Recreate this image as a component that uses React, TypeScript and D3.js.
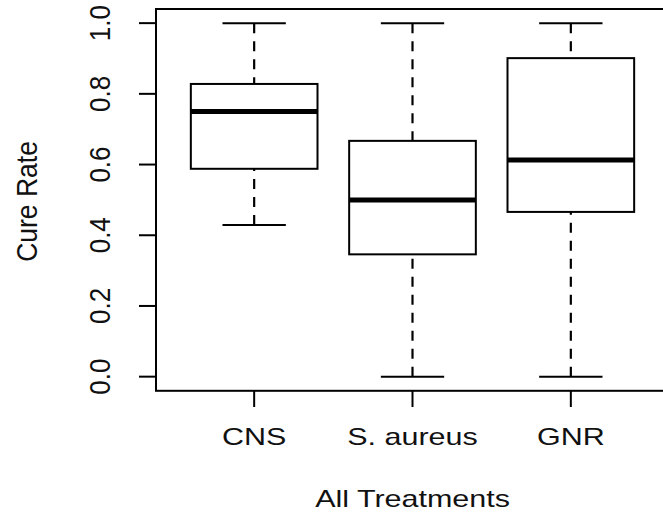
import React from "react";
import * as d3 from "d3";

// Five-number summaries of cure rate per pathogen group
const categories = ["CNS", "S. aureus", "GNR"];
const whiskerLow = [0.429, 0.0, 0.0];
const quartile1 = [0.588, 0.346, 0.466];
const medians = [0.75, 0.5, 0.613];
const quartile3 = [0.828, 0.667, 0.901];
const whiskerHigh = [1.0, 1.0, 1.0];
const yTicks = [0.0, 0.2, 0.4, 0.6, 0.8, 1.0];

const W = 663;
const H = 516;
const FONT = "'Liberation Sans', Arial, Helvetica, sans-serif";
const SX = 1.27; // horizontal stretch of the text glyphs

export default function App() {
  const x = d3.scaleLinear().domain([0.38, 3.62]).range([156, 669]);
  const y = d3.scaleLinear().domain([-0.04, 1.04]).range([390.8, 9]);
  const boxHalf = x(1.4) - x(1);
  const capHalf = x(1.2) - x(1);

  const rows = categories.map((c, i) => ({
    name: c,
    cx: x(i + 1),
    lo: whiskerLow[i],
    q1: quartile1[i],
    med: medians[i],
    q3: quartile3[i],
    hi: whiskerHigh[i],
  }));

  const fmt = d3.format(".1f");

  return (
    <svg
      width={W}
      height={H}
      style={{ position: "absolute", left: 0, top: 0, background: "#fff" }}
      fontFamily={FONT}
    >
      <rect x={0} y={0} width={W} height={H} fill="#fff" />

      {/* boxes and whiskers */}
      {rows.map((r) => (
        <g key={r.name} stroke="#000" fill="none">
          <line x1={r.cx} x2={r.cx} y1={y(r.hi)} y2={y(r.q3)} strokeWidth={2.2} strokeDasharray="10,8" />
          <line x1={r.cx} x2={r.cx} y1={y(r.lo)} y2={y(r.q1)} strokeWidth={2.2} strokeDasharray="10,8" />
          <line x1={r.cx - capHalf} x2={r.cx + capHalf} y1={y(r.hi)} y2={y(r.hi)} strokeWidth={2} />
          <line x1={r.cx - capHalf} x2={r.cx + capHalf} y1={y(r.lo)} y2={y(r.lo)} strokeWidth={2} />
          <rect
            x={r.cx - boxHalf}
            y={y(r.q3)}
            width={boxHalf * 2}
            height={y(r.q1) - y(r.q3)}
            strokeWidth={2}
          />
          <line x1={r.cx - boxHalf} x2={r.cx + boxHalf} y1={y(r.med)} y2={y(r.med)} strokeWidth={5} />
        </g>
      ))}

      {/* plot frame */}
      <rect x={156} y={y(1.04)} width={669 - 156} height={y(-0.04) - y(1.04)} fill="none" stroke="#000" strokeWidth={2} />

      {/* y axis */}
      {yTicks.map((t) => (
        <g key={t}>
          <line x1={139} x2={156} y1={y(t)} y2={y(t)} stroke="#000" strokeWidth={2} />
          <text
            transform={`translate(110,${y(t)}) scale(1.14,1) rotate(-90)`}
            textAnchor="middle"
            fontSize={26}
            fill="#111"
          >
            {fmt(t)}
          </text>
        </g>
      ))}
      <text
        transform={`translate(37,${201.5}) scale(1.14,1) rotate(-90)`}
        textAnchor="middle"
        fontSize={26.5}
        fill="#111"
      >
        Cure Rate
      </text>

      {/* x axis */}
      {rows.map((r) => (
        <g key={r.name}>
          <line x1={r.cx} x2={r.cx} y1={390.8} y2={407} stroke="#000" strokeWidth={2} />
          <text
            transform={`translate(${r.cx},445) scale(${SX},1)`}
            textAnchor="middle"
            fontSize={24}
            fill="#111"
          >
            {r.name}
          </text>
        </g>
      ))}
      <text
        transform={`translate(${x(2)},507) scale(${SX},1)`}
        textAnchor="middle"
        fontSize={24}
        fill="#111"
      >
        All Treatments
      </text>
    </svg>
  );
}
